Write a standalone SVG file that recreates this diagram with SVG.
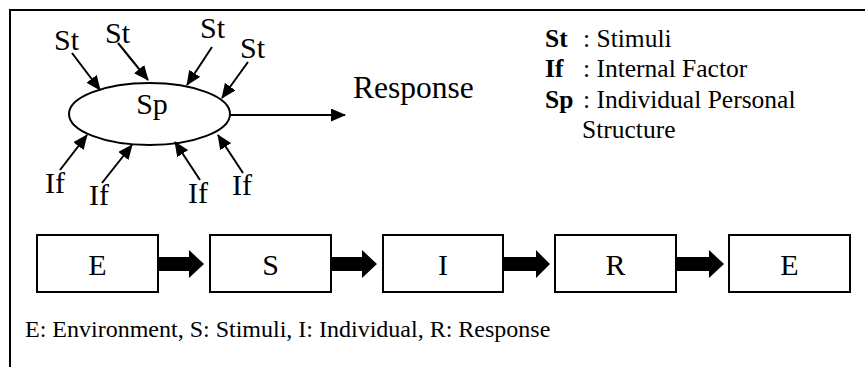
<svg xmlns="http://www.w3.org/2000/svg" width="865" height="367" viewBox="0 0 865 367">
<style>
text{font-family:"Liberation Serif","Times New Roman",serif;fill:#000}
.lbl{font-size:30px}
.box{fill:#fff;stroke:#000;stroke-width:2}
.bl{font-size:30px;text-anchor:middle}
.lg{font-size:25.5px}
.lgb{font-size:25.5px;font-weight:bold}
.cap{font-size:24px}
.ln{stroke:#000;stroke-width:2;fill:none}
.blk{fill:#000}
</style>
<defs>
<marker id="ah" markerUnits="userSpaceOnUse" markerWidth="15" markerHeight="13" refX="14" refY="6.5" orient="auto">
<path d="M0,0 L15,6.5 L0,13 Z" fill="#000"/>
</marker>
</defs>
<rect width="865" height="367" fill="#fff"/>
<path d="M10,367 V10 H865" class="ln"/>

<g id="sp">
<ellipse cx="149.5" cy="114" rx="80.5" ry="31" class="ln"/>
<text x="152" y="114" class="lbl" text-anchor="middle">Sp</text>
</g>

<g id="st-labels">
<text x="54" y="50" class="lbl">St</text>
<text x="105" y="43" class="lbl">St</text>
<text x="200" y="38" class="lbl">St</text>
<text x="240" y="58" class="lbl">St</text>
</g>
<g id="if-labels">
<text x="45" y="193" class="lbl">If</text>
<text x="89" y="205" class="lbl">If</text>
<text x="188" y="203" class="lbl">If</text>
<text x="232" y="195" class="lbl">If</text>
</g>
<g id="response">
<text x="353" y="98" font-size="31.5">Response</text>
</g>

<g id="legend">
<text x="545" y="47" class="lgb">St</text><text x="583" y="47" class="lg">: Stimuli</text>
<text x="545" y="77" class="lgb">If</text><text x="583" y="77" class="lg">: Internal Factor</text>
<text x="545" y="108" class="lgb">Sp</text><text x="583" y="108" class="lg">: Individual Personal</text>
<text x="582" y="138" class="lg">Structure</text>
</g>

<g id="connectors">
<line x1="72" y1="53" x2="100" y2="90" class="ln" marker-end="url(#ah)"/>
<line x1="118" y1="43" x2="148" y2="80" class="ln" marker-end="url(#ah)"/>
<line x1="212" y1="47" x2="187" y2="85" class="ln" marker-end="url(#ah)"/>
<line x1="248" y1="62" x2="222" y2="98" class="ln" marker-end="url(#ah)"/>
<line x1="60" y1="170" x2="87" y2="135" class="ln" marker-end="url(#ah)"/>
<line x1="102" y1="183" x2="132" y2="145" class="ln" marker-end="url(#ah)"/>
<line x1="200" y1="180" x2="175" y2="142" class="ln" marker-end="url(#ah)"/>
<line x1="243" y1="173" x2="218" y2="135" class="ln" marker-end="url(#ah)"/>
<line x1="230" y1="115" x2="345" y2="115" class="ln" marker-end="url(#ah)"/>
<path d="M159,257 H189 V250 L204,264 L189,278 V271 H159 Z" class="blk"/>
<path d="M332,257 H362 V250 L377,264 L362,278 V271 H332 Z" class="blk"/>
<path d="M504,257 H536 V250 L550,264 L536,278 V271 H504 Z" class="blk"/>
<path d="M677,257 H709 V250 L724,264 L709,278 V271 H677 Z" class="blk"/>
</g>

<g id="box-e1"><rect x="37" y="235" width="121" height="57" class="box"/><text x="97.5" y="275" class="bl">E</text></g>
<g id="box-s"><rect x="210" y="235" width="121" height="57" class="box"/><text x="270.5" y="275" class="bl">S</text></g>
<g id="box-i"><rect x="383" y="235" width="120" height="57" class="box"/><text x="443" y="275" class="bl">I</text></g>
<g id="box-r"><rect x="555" y="235" width="121" height="57" class="box"/><text x="615.5" y="275" class="bl">R</text></g>
<g id="box-e2"><rect x="729" y="235" width="121" height="57" class="box"/><text x="789.5" y="275" class="bl">E</text></g>

<text x="25" y="337" class="cap">E: Environment, S: Stimuli, I: Individual, R: Response</text>
</svg>
